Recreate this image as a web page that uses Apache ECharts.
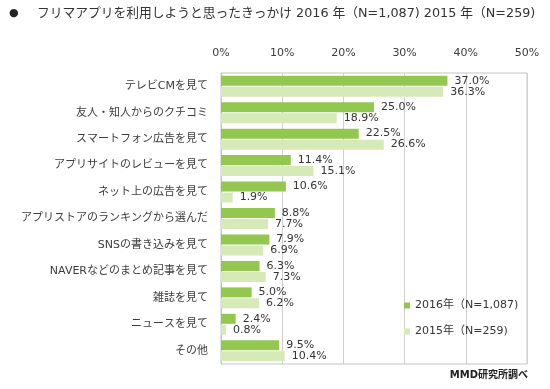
<!DOCTYPE html>
<html><head><meta charset="utf-8">
<script src="https://cdn.jsdelivr.net/npm/echarts@6/dist/echarts.min.js"></script>
<style>html,body{margin:0;padding:0;background:#fff}#c{width:550px;height:389px}</style>
</head><body><div id="c"></div>
<script>
const categories = ['テレビCMを見て','友人・知人からのクチコミ','スマートフォン広告を見て','アプリサイトのレビューを見て','ネット上の広告を見て','アプリストアのランキングから選んだ','SNSの書き込みを見て','NAVERなどのまとめ記事を見て','雑誌を見て','ニュースを見て','その他'];
const values2016 = [37.0,25.0,22.5,11.4,10.6,8.8,7.9,6.3,5.0,2.4,9.5];
const values2015 = [36.3,18.9,26.6,15.1,1.9,7.7,6.9,7.3,6.2,0.8,10.4];
const seriesNames = ['2016年（N=1,087)','2015年（N=259)'];
const titleText = 'フリマアプリを利用しようと思ったきっかけ 2016 年（N=1,087) 2015 年（N=259)';
const sourceText = 'MMD研究所調べ';

const FONT = '"DejaVu Sans","Noto Sans CJK JP",sans-serif';
const chart = echarts.init(document.getElementById('c'), null, {renderer:'canvas'});
const lbl = {show:true, position:'right', distance:7, fontSize:11, fontFamily:FONT, color:'#333',
  formatter: p => p.value.toFixed(1) + '%'};
chart.setOption({
  animation:false,
  backgroundColor:'#fff',
  grid:{left:221, right:23, top:73, bottom:25, show:true, borderColor:'#c4c4c4', borderWidth:1},
  xAxis:{type:'value', position:'top', min:0, max:50, interval:10,
    axisLine:{show:false}, axisTick:{show:false},
    axisLabel:{formatter:'{value}%', fontSize:11, fontFamily:FONT, color:'#3c3c3c', margin:14},
    splitLine:{lineStyle:{color:'#d0d0d0'}}},
  yAxis:{type:'category', data:categories, inverse:true,
    axisLine:{show:true, lineStyle:{color:'#c4c4c4'}}, axisTick:{show:false},
    axisLabel:{fontSize:11, fontFamily:FONT, color:'#3c3c3c', margin:13}},
  legend:{orient:'vertical', left:399, top:295, itemWidth:6, itemHeight:6, itemGap:15,
    icon:'rect', textStyle:{fontSize:11, fontFamily:FONT, color:'#333'},
    data:seriesNames},
  graphic:[
    {type:'text', left:9, top:8, style:{text:'●', fontSize:11, fontFamily:FONT, fill:'#222'}},
    {type:'text', left:37, top:7, style:{text:titleText, fontSize:12.75, fontFamily:FONT, fill:'#333'}},
    {type:'text', right:22, top:370, style:{text:sourceText, fontSize:10, fontWeight:'bold', fontFamily:FONT, fill:'#222'}}
  ],
  series:[
    {name:seriesNames[0], type:'bar', data:values2016, barWidth:10, barGap:'10%',
      itemStyle:{color:'#92c850'}, label:lbl},
    {name:seriesNames[1], type:'bar', data:values2015, barWidth:10,
      itemStyle:{color:'#d6eab8'}, label:lbl}
  ]
});
</script></body></html>
